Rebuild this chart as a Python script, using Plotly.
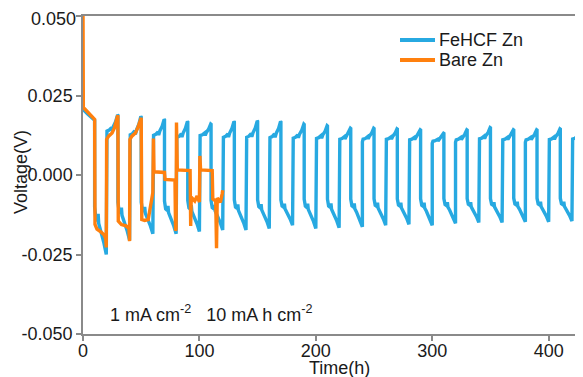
import plotly.graph_objects as go

# ---------------- axis ticks ----------------
x_ticks = [0, 100, 200, 300, 400]
y_ticks = [0.050, 0.025, 0.000, -0.025, -0.050]
y_tick_labels = ["0.050", "0.025", "0.000", "-0.025", "-0.050"]

step_hours = 10  # duration of each plating / stripping step

# ---------------- FeHCF Zn ----------------
# first step (0-10 h)
fehcf_first_t = [0, 1, 4, 7, 10]
fehcf_first_v = [0.0215, 0.0203, 0.0192, 0.0182, 0.0172]

# negative steps start at 10, 30, 50, ... h
fehcf_neg_start = [-0.0100, -0.0085, -0.0085, -0.0082, -0.0080, -0.0080, -0.0078,
                   -0.0078, -0.0078, -0.0076, -0.0076, -0.0076, -0.0075, -0.0075,
                   -0.0075, -0.0074, -0.0074, -0.0074, -0.0073, -0.0073, -0.0073]
fehcf_neg_end = [-0.0250, -0.0205, -0.0185, -0.0185, -0.0178, -0.0173, -0.0173,
                 -0.0168, -0.0158, -0.0168, -0.0166, -0.0163, -0.0158, -0.0155,
                 -0.0158, -0.0152, -0.0149, -0.0149, -0.0147, -0.0147, -0.0145]
# positive steps start at 20, 40, 60, ... h
fehcf_pos_start = [0.0125, 0.0112, 0.0112, 0.0106, 0.0115, 0.0106, 0.0106,
                   0.0105, 0.0105, 0.0105, 0.0104, 0.0104, 0.0104, 0.0103,
                   0.0100, 0.0103, 0.0105, 0.0103, 0.0103, 0.0103, 0.0104]
fehcf_pos_end = [0.0189, 0.0184, 0.0175, 0.0168, 0.0160, 0.0168, 0.0170,
                 0.0168, 0.0160, 0.0155, 0.0147, 0.0147, 0.0145, 0.0142,
                 0.0131, 0.0142, 0.0149, 0.0142, 0.0142, 0.0145, 0.0150]

# shape of a step: hours into step, share of start->end change
pos_shape_t = [0, 0.6, 2.5, 4.5, 5.0, 6.0, 8.0, 9.7, 10.0]
pos_shape_f = [0, 0.20, 0.25, 0.38, 0.22, 0.42, 0.66, 1.00, 0.98]
neg_shape_t = [0, 1.0, 2.5, 3.0, 3.5, 5.0, 8.0, 10.0]
neg_shape_f = [0, 0.24, 0.29, 0.15, 0.35, 0.47, 0.76, 1.00]

# ---------------- Bare Zn ----------------
bare_t = [0, 0.3, 2, 5, 8, 10,
          10.3, 12, 15, 18, 19.5, 20,
          20.3, 22, 25, 27, 29.5, 30,
          30.3, 33, 37, 39.5, 40,
          40.3, 42, 45, 47, 49.5, 50,
          50.5, 53, 56, 58, 60,
          60.5, 61, 70, 70.5, 79, 79.5, 80,
          80.3, 81, 92, 92.5, 93, 96, 98, 100,
          100.4, 101, 111, 111.5, 114, 114.7, 115.3, 118, 119.5, 120]
bare_v = [0.0520, 0.0212, 0.0206, 0.0194, 0.0182, 0.0175,
          -0.0155, -0.0170, -0.0178, -0.0188, -0.0200, -0.0228,
          0.0112, 0.0122, 0.0132, 0.0148, 0.0183, 0.0188,
          -0.0145, -0.0156, -0.0160, -0.0168, -0.0208,
          0.0112, 0.0122, 0.0132, 0.0148, 0.0176, 0.0180,
          -0.0140, -0.0143, -0.0140, -0.0090, -0.0055,
          0.0115, 0.0010, 0.0008, -0.0014, -0.0016, -0.0175, -0.0170,
          0.0165, 0.0016, 0.0014, -0.0160, -0.0070, -0.0082, -0.0066, -0.0085,
          0.0060, 0.0016, 0.0014, -0.0075, -0.0082, -0.0230, -0.0072, -0.0086, -0.0060, -0.0048]

series_names = ["FeHCF Zn", "Bare Zn"]

# ---------------- build FeHCF trace from read values ----------------
fehcf_t = list(fehcf_first_t)
fehcf_v = list(fehcf_first_v)
for k in range(len(fehcf_neg_start)):
    t0 = step_hours + 2 * step_hours * k
    ns, ne = fehcf_neg_start[k], fehcf_neg_end[k]
    for tt, ff in zip(neg_shape_t, neg_shape_f):
        fehcf_t.append(t0 + tt)
        fehcf_v.append(ns + ff * (ne - ns))
    t1 = t0 + step_hours
    ps, pe = fehcf_pos_start[k], fehcf_pos_end[k]
    for tt, ff in zip(pos_shape_t, pos_shape_f):
        fehcf_t.append(t1 + tt)
        fehcf_v.append(ps + ff * (pe - ps))

FONT = "Liberation Sans, Arial, sans-serif"
TXT = "#1a1a1a"
BLUE = "#27A9E1"
ORANGE = "#FF800E"
AXIS = "#8a8a8a"
colors = [BLUE, ORANGE]

OFF = 8  # default page margin of the html body
W, H = 583 - OFF, 377 - OFF
L, R, T, B = 83 - OFF, 0, 16 - OFF, 43
PW, PH = W - L - R, H - T - B


def px(x):  # page pixel -> paper
    return (x - OFF - L) / PW


def py(y):  # page pixel -> paper
    return (H - B - (y - OFF)) / PH


fig = go.Figure()
fig.add_trace(go.Scatter(x=fehcf_t, y=fehcf_v, mode="lines", name=series_names[0],
                         line=dict(color=BLUE, width=3.4), showlegend=False))
fig.add_trace(go.Scatter(x=bare_t, y=bare_v, mode="lines", name=series_names[1],
                         line=dict(color=ORANGE, width=3.4), showlegend=False))

# legend drawn by hand for exact spacing
for i, (nm, c) in enumerate(zip(series_names, colors)):
    yy = 40 + 20 * i
    fig.add_shape(type="line", xref="paper", yref="paper",
                  x0=px(400), x1=px(435), y0=py(yy), y1=py(yy),
                  line=dict(color=c, width=4))
    fig.add_annotation(x=px(437), y=py(yy), xref="paper", yref="paper",
                       xanchor="left", yanchor="middle", showarrow=False,
                       text=nm, font=dict(family=FONT, size=18, color=TXT))

fig.add_annotation(x=px(108), y=py(313), xref="paper", yref="paper",
                   xanchor="left", yanchor="middle", showarrow=False,
                   text="1 mA cm<sup>-2</sup>\u00a0\u00a0 10 mA h cm<sup>-2</sup>",
                   font=dict(family=FONT, size=18, color=TXT))

# top y tick label drawn as text slightly below its tick (as in the reference)
fig.add_annotation(x=px(77), y=py(19), xref="paper", yref="paper",
                   xanchor="right", yanchor="middle", showarrow=False, borderpad=0,
                   text=y_tick_labels[0], font=dict(family=FONT, size=18, color=TXT))

# axis titles
fig.add_annotation(x=px(339), y=py(368), xref="paper", yref="paper",
                   xanchor="center", yanchor="middle", showarrow=False,
                   text="Time(h)", font=dict(family=FONT, size=18, color=TXT))
fig.add_annotation(x=px(21), y=py(172), xref="paper", yref="paper",
                   xanchor="center", yanchor="middle", showarrow=False, textangle=-90,
                   text="Voltage(V)", font=dict(family=FONT, size=18, color=TXT))

fig.update_layout(
    width=W, height=H,
    margin=dict(l=L, r=R, t=T, b=B, autoexpand=False),
    paper_bgcolor="white", plot_bgcolor="white",
    font=dict(family=FONT, size=18, color=TXT),
    showlegend=False,
    xaxis=dict(range=[0, 429.5], tickvals=x_ticks, showgrid=False, zeroline=False,
               showline=True, linecolor=AXIS, linewidth=1.5, mirror=True,
               ticks="outside", ticklen=5, tickcolor=AXIS, tickwidth=1.5,
               automargin=False, tickfont=dict(size=18),
               ticklabelstandoff=-5, ticklabeloverflow="allow"),
    yaxis=dict(range=[-0.05, 0.05], tickvals=y_ticks,
               ticktext=[""] + y_tick_labels[1:],
               showgrid=False, zeroline=False,
               showline=True, linecolor=AXIS, linewidth=1.5,
               ticks="outside", ticklen=5, tickcolor=AXIS, tickwidth=1.5,
               automargin=False, tickfont=dict(size=18),
               ticklabeloverflow="allow"),
)

fig.write_html("out.html")
